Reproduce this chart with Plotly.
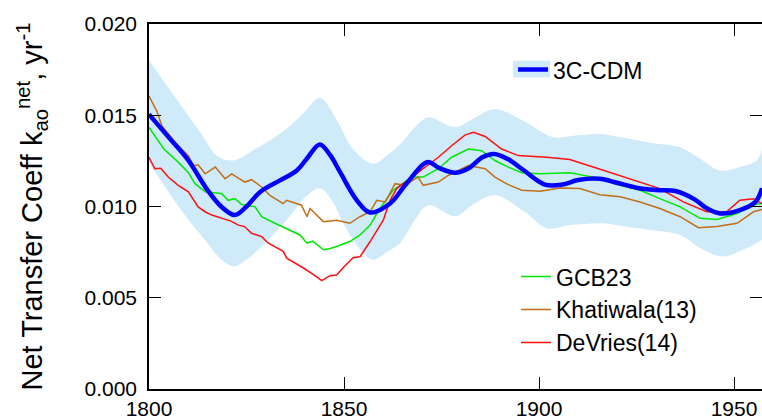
import plotly.graph_objects as go

# ---- data ----
cdm_years = [1800, 1805, 1810, 1815, 1818.5, 1822, 1825, 1828.5, 1833.6, 1837.9, 1840.4, 1843.8,
             1846.5, 1849, 1853.3, 1856.7, 1861.8, 1866, 1871.4, 1874.5, 1878.5, 1882, 1885.5,
             1888.5, 1892, 1896, 1901.5, 1906, 1910, 1915.5, 1920, 1925, 1930, 1935, 1940, 1943,
             1946.4, 1951.5, 1955.5, 1957.2]
cdm_values = [0.01505, 0.0138, 0.01255, 0.0109, 0.0100, 0.00953, 0.0100, 0.0108, 0.01143, 0.01197,
              0.0126, 0.0134, 0.0128, 0.01188, 0.01034, 0.00967, 0.01016, 0.01125, 0.01243, 0.0121,
              0.01185, 0.0121, 0.0127, 0.01288, 0.0126, 0.0120, 0.0112, 0.0112, 0.01145, 0.01152,
              0.0113, 0.01103, 0.0109, 0.01085, 0.01038, 0.0099, 0.00962, 0.0098, 0.01025, 0.0110]

band_up_years = [1800, 1805, 1810, 1814, 1817.3, 1821.6, 1827.2, 1832.3, 1836.2, 1840, 1843.8, 1848,
                 1852.3, 1857.5, 1861, 1864.4, 1868, 1871.6, 1878.5, 1883, 1888.7, 1896, 1903.6,
                 1910, 1915.6, 1921, 1928.5, 1936.2, 1941.3, 1946.4, 1951.5, 1955.8, 1957.2]
band_up_values = [0.0180, 0.0165, 0.0150, 0.0138, 0.0128, 0.01252, 0.01315, 0.0138, 0.01442, 0.0152,
                  0.01596, 0.0148, 0.01315, 0.01234, 0.0128, 0.0134, 0.0143, 0.01489, 0.01435,
                  0.0148, 0.01533, 0.0147, 0.0138, 0.0139, 0.01397, 0.0138, 0.0135, 0.01324,
                  0.01261, 0.01197, 0.01216, 0.01252, 0.01315]
band_lo_years = [1800, 1805, 1810, 1815, 1818, 1821.6, 1825, 1829.3, 1832, 1836.2, 1840, 1843.8, 1847,
                 1850, 1854, 1857.4, 1861, 1864.4, 1868, 1871.6, 1878.5, 1883, 1888.7, 1896.4, 1902,
                 1908, 1916.4, 1922, 1928.5, 1936.2, 1941.3, 1947.2, 1953.3, 1957.2]
band_lo_values = [0.0124, 0.0108, 0.0093, 0.0080, 0.0072, 0.00672, 0.0071, 0.0079, 0.0085, 0.0095,
                  0.0105, 0.0110, 0.0103, 0.0090, 0.0077, 0.00708, 0.0075, 0.0080, 0.0092, 0.01007,
                  0.00946, 0.0101, 0.01061, 0.0097, 0.0088, 0.00898, 0.00908, 0.0089, 0.00871,
                  0.00844, 0.00772, 0.00726, 0.00772, 0.00817]

gcb_years = [1800, 1803.8, 1807.5, 1810, 1811.8, 1814.4, 1818.6, 1820.3, 1822, 1823.8, 1827.2, 1828.9,
             1832.3, 1838.7, 1840.5, 1842, 1844.7, 1846.5, 1848.1, 1851.5, 1854.1, 1856.7, 1859.2,
             1862.6, 1867.4, 1870.3, 1874.2, 1877.6, 1881.9, 1885.3, 1888.7, 1892.1, 1895.6, 1900.3,
             1907.9, 1913.9, 1920.8, 1925.9, 1931, 1936.2, 1941.3, 1945.6, 1950.8, 1955, 1957.2]
gcb_values = [0.01433, 0.01315, 0.01243, 0.01188, 0.01125, 0.0108, 0.01071, 0.01034, 0.01043, 0.01011,
              0.00998, 0.00944, 0.00908, 0.00844, 0.00799, 0.0081, 0.00763, 0.0077, 0.00781, 0.00808,
              0.00844, 0.00898, 0.00989, 0.01089, 0.01161, 0.01161, 0.01207, 0.0127, 0.01315,
              0.01306, 0.01252, 0.01216, 0.01185, 0.0118, 0.01185, 0.01161, 0.01116, 0.01089,
              0.01043, 0.00998, 0.00935, 0.00929, 0.00962, 0.01011, 0.01016]

kha_years = [1800, 1802, 1803.3, 1806.7, 1810.1, 1811.4, 1812.6, 1814.4, 1817, 1819.5, 1821.2, 1824.6,
             1826.3, 1828.9, 1831, 1834.4, 1835.3, 1839.1, 1840.5, 1841.3, 1844.7, 1848.1, 1851.5,
             1854.1, 1856.7, 1858.4, 1860.6, 1863.1, 1865.6, 1869, 1870.3, 1874.2, 1876.7, 1881.9,
             1886.2, 1888.7, 1892.1, 1895.6, 1900.3, 1905.4, 1910.5, 1915.6, 1920.8, 1925.9, 1931,
             1936.2, 1940.9, 1945.6, 1950.8, 1955, 1957.2]
kha_values = [0.01605, 0.01523, 0.01442, 0.01352, 0.01279, 0.01224, 0.01229, 0.01179, 0.01216, 0.01152,
              0.01179, 0.01134, 0.01147, 0.01107, 0.01061, 0.01016, 0.01034, 0.01007, 0.00944, 0.00989,
              0.00917, 0.00925, 0.00908, 0.00944, 0.00971, 0.01034, 0.01025, 0.01125, 0.01116,
              0.01161, 0.01116, 0.01134, 0.0117, 0.01224, 0.01207, 0.01161, 0.0112, 0.01089, 0.01083,
              0.01101, 0.01098, 0.01065, 0.01053, 0.01025, 0.00989, 0.00944, 0.00884, 0.0089,
              0.00908, 0.00971, 0.00984]

dev_years = [1800, 1801.5, 1803, 1805, 1807.5, 1810.1, 1812.6, 1814.5, 1816.1, 1818, 1819.5, 1821,
             1822.9, 1824.5, 1826.3, 1828.9, 1830.5, 1832.3, 1834.4, 1835.3, 1837.5, 1839.6, 1842,
             1844.3, 1846.4, 1848.1, 1850, 1852.4, 1854.1, 1856.7, 1860.1, 1861.8, 1863.5, 1867.4,
             1870.8, 1874.2, 1877.6, 1881, 1883.2, 1886.2, 1890.4, 1894.7, 1902, 1907.9, 1913.9,
             1920.8, 1925.9, 1931, 1937, 1943, 1948.1, 1951.5, 1955, 1957.2]
dev_values = [0.0127, 0.01207, 0.0121, 0.0116, 0.01116, 0.0108, 0.00998, 0.0097, 0.00953, 0.0094,
              0.00926, 0.0092, 0.00898, 0.0089, 0.00853, 0.00835, 0.0080, 0.00777, 0.00754, 0.00717,
              0.0069, 0.00663, 0.0063, 0.00594, 0.00621, 0.00625, 0.0067, 0.00721, 0.00725, 0.00808,
              0.00926, 0.01034, 0.01098, 0.01161, 0.01216, 0.0127, 0.01333, 0.01391, 0.01406,
              0.01384, 0.01315, 0.01279, 0.0127, 0.01257, 0.01216, 0.01167, 0.01134, 0.01098,
              0.01025, 0.00971, 0.00971, 0.01034, 0.01043, 0.01016]

x_ticks = [1800, 1850, 1900, 1950]
y_ticks = [0.000, 0.005, 0.010, 0.015, 0.020]

# ---- styling ----
FONT = "Liberation Sans, Arial, Helvetica, sans-serif"
BAND = "#cfebfa"
BLUE = "#0000ff"
GREEN = "#00e800"
BROWN = "#c06e1a"
RED = "#ff1010"

W, H = 762, 420
ML, MR, MT, MB = 149, 0, 24, 28
PW, PH = W - ML - MR, H - MT - MB


def sx(px):
    # page x pixel -> paper coord
    return (px - ML) / PW


def sy(py):
    # page y pixel -> paper coord
    return (H - MB - py) / PH


fig = go.Figure()
fig.add_trace(go.Scatter(x=band_up_years, y=band_up_values, mode="lines",
                         line=dict(width=0, shape="spline", color=BAND),
                         showlegend=False, hoverinfo="skip"))
fig.add_trace(go.Scatter(x=band_lo_years, y=band_lo_values, mode="lines",
                         line=dict(width=0, shape="spline", color=BAND),
                         fill="tonexty", fillcolor=BAND,
                         showlegend=False, hoverinfo="skip"))
fig.add_trace(go.Scatter(x=gcb_years, y=gcb_values, mode="lines", name="GCB23",
                         line=dict(color=GREEN, width=1.5), legend="legend2"))
fig.add_trace(go.Scatter(x=kha_years, y=kha_values, mode="lines", name="Khatiwala(13)",
                         line=dict(color=BROWN, width=1.5), legend="legend2"))
fig.add_trace(go.Scatter(x=dev_years, y=dev_values, mode="lines", name="DeVries(14)",
                         line=dict(color=RED, width=1.5), legend="legend2"))
fig.add_trace(go.Scatter(x=cdm_years, y=cdm_values, mode="lines", name="3C-CDM",
                         line=dict(color=BLUE, width=4.5, shape="spline", smoothing=1.0),
                         legend="legend"))
# empty helper trace so the right-hand tick axis is drawn
fig.add_trace(go.Scatter(x=[], y=[], yaxis="y2", showlegend=False, hoverinfo="skip"))

x_end = 1800 + PW / 3.9

tick_common = dict(ticks="inside", ticklen=12, tickcolor="black", tickwidth=1.2,
                   showgrid=False, zeroline=False)

fig.update_layout(
    width=W, height=H,
    margin=dict(l=ML, r=MR, t=MT, b=MB, pad=0),
    paper_bgcolor="white", plot_bgcolor="white",
    font=dict(family=FONT, color="black", size=21),
    xaxis=dict(range=[1800, x_end], tickvals=x_ticks, ticktext=[str(v) for v in x_ticks],
               showline=True, linecolor="black", linewidth=1.5, mirror="ticks",
               tickfont=dict(size=21), **tick_common),
    yaxis=dict(range=[0, 0.02], tickvals=y_ticks, tickformat=".3f",
               showline=True, linecolor="black", linewidth=1.5, mirror=False,
               tickfont=dict(size=21), ticklabelstandoff=6,
               title=dict(text="Net Transfer Coeff k<sub>ao</sub><sup>net</sup>, yr<sup>-1</sup>",
                          font=dict(size=29), standoff=33),
               **tick_common),
    yaxis2=dict(range=[0, 0.02], tickvals=y_ticks, overlaying="y", side="right",
                showline=False, showticklabels=False, **tick_common),
    legend=dict(x=sx(513), y=sy(70), xanchor="left", yanchor="middle",
                bgcolor="rgba(0,0,0,0)", font=dict(size=23)),
    legend2=dict(x=sx(516), y=sy(312), xanchor="left", yanchor="middle",
                 bgcolor="rgba(0,0,0,0)", font=dict(size=23), tracegroupgap=0),
    shapes=[dict(type="rect", xref="paper", yref="paper",
                 x0=sx(513), x1=sx(550), y0=sy(78), y1=sy(61),
                 fillcolor=BAND, line=dict(width=0), layer="below")],
)

# remove the default page margin so the figure sits at the window's top-left corner
fig.write_html("out.html", config={"displayModeBar": False},
               post_script="document.body.style.margin='0';document.body.style.overflow='hidden';")
